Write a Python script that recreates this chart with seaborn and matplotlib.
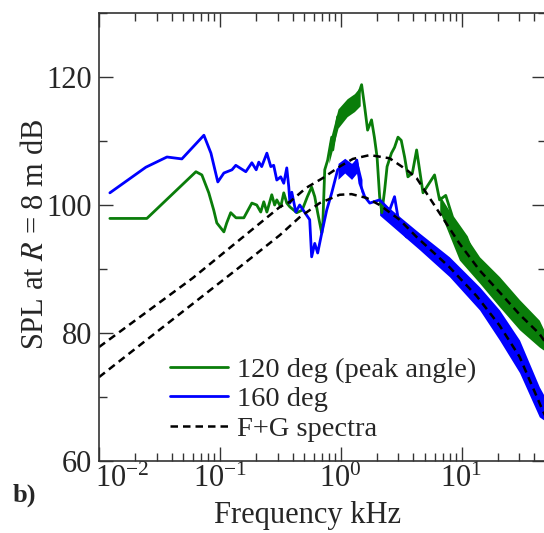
import matplotlib
matplotlib.use("Agg")
import matplotlib.pyplot as plt
import matplotlib.transforms as mtransforms
import seaborn as sns
import pandas as pd
from matplotlib.ticker import LogLocator, MultipleLocator, FixedLocator, NullFormatter

# ---------------- data ----------------
# 120 deg (peak angle) spectrum, resolved part
green_f = [0.0123, 0.0249, 0.0634, 0.071, 0.081, 0.089, 0.0944, 0.108, 0.114, 0.123,
           0.136, 0.158, 0.184, 0.202, 0.218, 0.231, 0.245, 0.269, 0.284, 0.296,
           0.319, 0.338, 0.358, 0.38, 0.409, 0.433, 0.48, 0.53, 0.575, 0.61,
           0.645, 0.697, 0.71, 0.738, 0.78, 0.843, 0.86, 0.944, 1.03, 1.13,
           1.26, 1.38, 1.49, 1.58, 1.67, 1.8, 1.9, 2.0, 2.1, 2.19,
           2.31, 2.42, 2.63, 2.79, 2.98, 3.17, 3.38, 3.6, 3.92, 4.25,
           4.8, 5.98, 6.58, 7.4, 8.43, 11.0, 14.1, 20.6, 30.2, 44.0, 48.0]
green_db = [97.9, 97.9, 105.2, 104.7, 101.9, 99.2, 97.2, 95.8, 97.2, 98.8,
            98.0, 98.0, 100.3, 100.0, 98.9, 100.5, 98.9, 101.6, 100.0, 100.8,
            99.7, 101.9, 100.3, 99.7, 99.2, 98.8, 99.2, 101.3, 102.8, 101.3,
            98.8, 95.6, 96.6, 105.5, 107.0, 110.6, 108.6, 113.8, 114.4, 115.3,
            115.9, 116.9, 118.8, 115.3, 111.7, 113.3, 110.6, 107.5, 101.3, 98.8,
            102.3, 106.0, 108.1, 109.0, 110.6, 110.1, 107.5, 104.4, 105.0, 108.6,
            101.9, 104.7, 100.8, 101.5, 98.1, 95.0, 89.8, 86.4, 82.9, 79.9, 78.9]
# 120 deg, dense parts (lower / upper envelope)
green_band_f = [6.6, 9.6, 14.1, 20.6, 30.2, 44.0, 48.0]
green_band_lo = [99.0, 91.4, 87.8, 84.1, 80.5, 77.8, 77.3]
green_band_hi = [101.5, 96.6, 91.9, 88.8, 85.2, 82.0, 80.5]
green_mid_f = [0.80, 0.95, 1.13, 1.30, 1.45]
green_mid_lo = [106.5, 112.0, 113.8, 114.6, 115.5]
green_mid_hi = [109.5, 115.0, 116.6, 117.4, 118.5]

# 160 deg spectrum, resolved part
blue_f = [0.0123, 0.0244, 0.0365, 0.0485, 0.0738, 0.0844, 0.0962, 0.108, 0.126, 0.1355,
          0.164, 0.184, 0.2, 0.21, 0.222, 0.245, 0.264, 0.279, 0.296, 0.319,
          0.338, 0.358, 0.372, 0.38, 0.394, 0.425, 0.458, 0.554, 0.575, 0.61,
          0.645, 0.697, 0.766, 0.843, 0.944, 1.08, 1.23, 1.36, 1.44, 1.58,
          1.74, 2.1, 2.54, 2.79, 3.07, 3.51, 4.25, 7.94, 14.1, 20.6,
          30.2, 44.0, 48.0]
blue_db = [101.9, 105.9, 107.5, 107.2, 110.9, 108.1, 103.6, 105.0, 105.5, 106.2,
           105.2, 106.6, 105.5, 106.7, 106.0, 108.1, 106.0, 106.2, 103.9, 104.4,
           103.4, 105.8, 102.8, 100.3, 102.0, 98.9, 100.0, 97.7, 91.9, 94.0,
           92.5, 95.6, 99.2, 101.9, 105.5, 106.6, 105.5, 107.0, 103.4, 101.3,
           100.3, 100.8, 99.2, 101.3, 96.6, 95.0, 95.6, 90.3, 85.4, 81.2,
           76.3, 69.3, 68.3]
# 160 deg, dense parts
blue_band_f = [2.1, 4.5, 7.94, 14.1, 20.6, 30.2, 44.0, 48.0]
blue_band_lo = [98.4, 93.0, 88.8, 83.6, 78.9, 73.8, 66.9, 66.4]
blue_band_hi = [100.8, 95.6, 91.9, 87.2, 83.6, 78.9, 71.6, 70.3]
blue_mid_f = [0.95, 1.08, 1.23, 1.36, 1.5]
blue_mid_lo = [104.0, 105.0, 104.0, 105.0, 101.5]
blue_mid_hi = [106.5, 107.3, 106.5, 107.3, 104.0]

# F+G similarity spectra (upper: 120 deg, lower: 160 deg)
fg_hi_f = [0.01, 0.0598, 0.314, 0.38, 0.52, 0.71, 0.98, 1.26, 1.74, 2.54,
           3.51, 4.25, 9.6, 14.1, 20.6, 30.2, 44.0, 50.0]
fg_hi_db = [77.8, 88.6, 99.7, 100.5, 102.7, 104.2, 106.0, 107.2, 107.8, 107.3,
            105.5, 104.2, 94.0, 89.8, 86.4, 82.9, 79.9, 78.4]
fg_lo_f = [0.01, 0.1436, 0.314, 0.458, 0.67, 0.98, 1.23, 1.64, 2.1, 3.07,
           4.25, 7.94, 13.3, 20.6, 30.2, 46.7, 50.0]
fg_lo_db = [73.1, 90.2, 95.3, 98.1, 100.3, 101.6, 101.7, 101.1, 100.0, 97.7,
            95.0, 90.3, 85.8, 81.2, 76.3, 68.0, 66.8]

labels = ["120 deg (peak angle)", "160 deg", "F+G spectra"]
x_ticks = [0.01, 0.1, 1, 10]
y_ticks = [60, 80, 100, 120]

GREEN = "#0a7d0a"
BLUE = "#0000ff"

# ---------------- figure ----------------
sns.set_theme(style="ticks")
plt.rcParams["font.family"] = ["Liberation Serif", "DejaVu Serif"]
plt.rcParams["mathtext.fontset"] = "stix"
plt.rcParams["axes.unicode_minus"] = False
FS = 22
LFS = 20.5

fig = plt.figure(figsize=(5.44, 5.33), dpi=100)
W, H = 544, 533
L, R, B, T = 99, 546, 461, 13
ax = fig.add_axes([L / W, 1 - B / H, (R - L) / W, (B - T) / H])

dfg = pd.DataFrame({"f": green_f, "db": green_db})
dfb = pd.DataFrame({"f": blue_f, "db": blue_db})
dfh = pd.DataFrame({"f": fg_hi_f, "db": fg_hi_db})
dfl = pd.DataFrame({"f": fg_lo_f, "db": fg_lo_db})

ax.fill_between(green_band_f, green_band_lo, green_band_hi, color=GREEN, lw=0)
ax.fill_between(green_mid_f, green_mid_lo, green_mid_hi, color=GREEN, lw=0)
ax.fill_between(blue_band_f, blue_band_lo, blue_band_hi, color=BLUE, lw=0)
ax.fill_between(blue_mid_f, blue_mid_lo, blue_mid_hi, color=BLUE, lw=0)
sns.lineplot(data=dfg, x="f", y="db", ax=ax, color=GREEN, lw=2.0, estimator=None, label=labels[0])
sns.lineplot(data=dfb, x="f", y="db", ax=ax, color=BLUE, lw=2.0, estimator=None, label=labels[1])
sns.lineplot(data=dfh, x="f", y="db", ax=ax, color="black", lw=1.8, estimator=None,
             linestyle=(0, (3, 2)), label=labels[2])
sns.lineplot(data=dfl, x="f", y="db", ax=ax, color="black", lw=1.8, estimator=None,
             linestyle=(0, (3, 2)))

ax.set_xscale("log")
ax.set_xlim(0.01, 50)
ax.set_ylim(60, 130)
ax.xaxis.set_major_locator(FixedLocator(x_ticks))
ax.xaxis.set_minor_locator(LogLocator(base=10, subs=range(2, 10), numticks=20))
ax.xaxis.set_minor_formatter(NullFormatter())
ax.yaxis.set_major_locator(FixedLocator(y_ticks))
ax.yaxis.set_minor_locator(MultipleLocator(10))
ax.tick_params(which="both", direction="in", top=True, right=True, width=1.0,
               color="#333333", labelsize=FS)
ax.tick_params(which="major", length=10)
ax.tick_params(which="minor", length=6)
ax.tick_params(axis="x", which="major", pad=3)
ax.tick_params(axis="y", which="major", pad=5)
for s in ax.spines.values():
    s.set_linewidth(1.2)
    s.set_color("#333333")

ax.set_xlabel("")
ax.set_ylabel("SPL at $R$ = 8 m dB", fontsize=FS)
ax.yaxis.set_label_coords((50 - L) / (R - L), 0.505)
fig.text(308 / W, 1 - 516 / H, "Frequency kHz", fontsize=FS, ha="center", va="center")
fig.text(13 / W, 1 - 495 / H, "b)", fontsize=19, fontweight="bold", ha="left", va="center")

handles = ax.get_lines()[:3]
ax.legend(handles=handles, labels=labels, loc="upper left",
          bbox_to_anchor=(170 / W, 1 - 357 / H), bbox_transform=fig.transFigure,
          frameon=False, fontsize=LFS, handlelength=2.05, handletextpad=0.3,
          labelspacing=0.12, borderpad=0, borderaxespad=0)

fig.canvas.draw()
first = ax.get_xticklabels()[0]
first.set_horizontalalignment("left")
first.set_transform(first.get_transform() +
                    mtransforms.ScaledTranslation(-4 / 100, 0, fig.dpi_scale_trans))

fig.savefig("out.png", dpi=100)
